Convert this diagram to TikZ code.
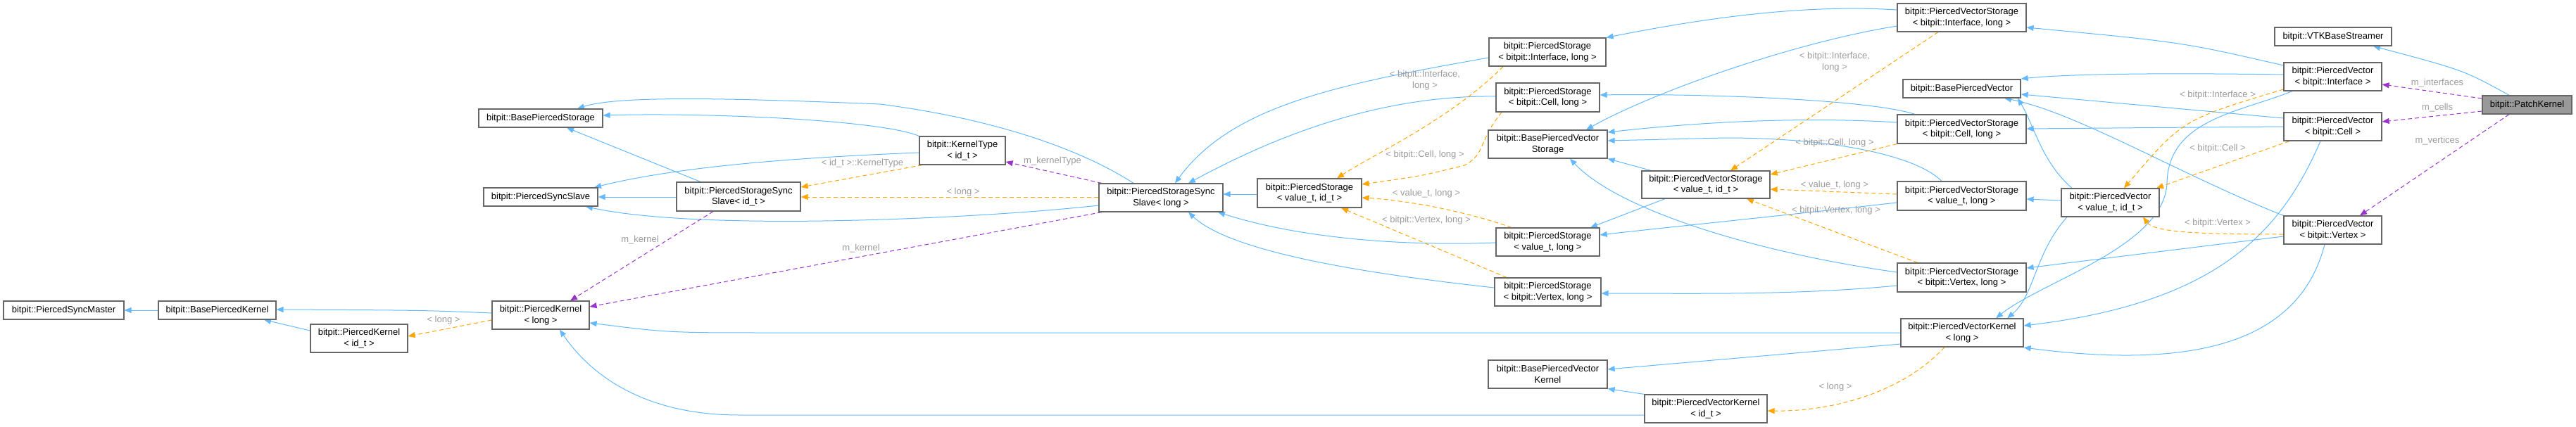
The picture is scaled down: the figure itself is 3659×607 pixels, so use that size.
\documentclass[tikz,border=0pt]{standalone}
\usepackage{fontspec}
\setmainfont{Liberation Sans}
\usetikzlibrary{arrows.meta}
\definecolor{cblue}{HTML}{63B8FF}
\definecolor{corange}{HTML}{FFA500}
\definecolor{cpurple}{HTML}{9A32CD}
\definecolor{cgray}{HTML}{9B9B9B}
\definecolor{cbord}{HTML}{666666}
\pgfdeclarelayer{bg}
\pgfsetlayers{bg,main}
\newcommand\bx[7][white]{\node[box,fill=#1,minimum width={(#5-#3)*1pt},minimum height={(#6-#4)*1pt}] (#2) at ({(#3+#5)/2},{(#4+#6)/2}) {#7};}
\begin{document}
\begin{tikzpicture}[x=1pt,y=-1pt,
  every node/.style={font=\fontsize{13}{15.5}\selectfont},
  box/.style={draw=cbord,line width=1.2pt,inner sep=0pt,align=center},
  tip/.style={-{Triangle[length=10pt,width=8pt]}},
  inh/.style={tip,draw=cblue,line width=1pt},
  tmpl/.style={tip,draw=corange,line width=1pt,dash pattern=on 6pt off 4pt},
  mem/.style={tip,draw=cpurple,line width=1pt,dash pattern=on 6pt off 4pt},
  lbl/.style={text=cgray,align=center,inner sep=0pt}]
\useasboundingbox (0,0) rectangle (3659,607);
\bx{PSM}{5}{428}{176}{454}{bitpit::PiercedSyncMaster}
\bx{BPK}{225}{428}{392}{454}{bitpit::BasePiercedKernel}
\bx{PKi}{441}{461}{579}{501}{bitpit::PiercedKernel\\< id\_t >}
\bx{PKl}{699}{428}{837}{468}{bitpit::PiercedKernel\\< long >}
\bx{BPS}{680}{155}{856}{181}{bitpit::BasePiercedStorage}
\bx{PSS}{687}{267}{849}{293}{bitpit::PiercedSyncSlave}
\bx{PSSSi}{961}{259}{1137}{300}{bitpit::PiercedStorageSync\\Slave< id\_t >}
\bx{KT}{1306}{194}{1428}{234}{bitpit::KernelType\\< id\_t >}
\bx{PSSSl}{1561}{261}{1737}{301}{bitpit::PiercedStorageSync\\Slave< long >}
\bx{PSvi}{1786}{254}{1934}{295}{bitpit::PiercedStorage\\< value\_t, id\_t >}
\bx{PSI}{2115}{54}{2281}{94}{bitpit::PiercedStorage\\< bitpit::Interface, long >}
\bx{PSC}{2125}{118}{2272}{159}{bitpit::PiercedStorage\\< bitpit::Cell, long >}
\bx{BPVS}{2114}{185}{2283}{225}{bitpit::BasePiercedVector\\Storage}
\bx{PSvl}{2125}{324}{2272}{364}{bitpit::PiercedStorage\\< value\_t, long >}
\bx{PSV}{2123}{395}{2274}{435}{bitpit::PiercedStorage\\< bitpit::Vertex, long >}
\bx{BPVK}{2114}{512}{2283}{552}{bitpit::BasePiercedVector\\Kernel}
\bx{PVKi}{2336}{561}{2510}{601}{bitpit::PiercedVectorKernel\\< id\_t >}
\bx{PVSI}{2695}{5}{2878}{45}{bitpit::PiercedVectorStorage\\< bitpit::Interface, long >}
\bx{PVSvi}{2332}{243}{2514}{282}{bitpit::PiercedVectorStorage\\< value\_t, id\_t >}
\bx{BPV}{2703}{113}{2870}{139}{bitpit::BasePiercedVector}
\bx{PVSC}{2695}{163}{2878}{204}{bitpit::PiercedVectorStorage\\< bitpit::Cell, long >}
\bx{PVSvl}{2695}{258}{2878}{299}{bitpit::PiercedVectorStorage\\< value\_t, long >}
\bx{PVSV}{2695}{374}{2878}{415}{bitpit::PiercedVectorStorage\\< bitpit::Vertex, long >}
\bx{PVKl}{2700}{453}{2874}{493}{bitpit::PiercedVectorKernel\\< long >}
\bx{PVvi}{2928}{268}{3067}{308}{bitpit::PiercedVector\\< value\_t, id\_t >}
\bx{VTK}{3231}{39}{3397}{65}{bitpit::VTKBaseStreamer}
\bx{PVI}{3244}{89}{3383}{129}{bitpit::PiercedVector\\< bitpit::Interface >}
\bx{PVC}{3244}{160}{3383}{200}{bitpit::PiercedVector\\< bitpit::Cell >}
\bx{PVV}{3244}{307}{3383}{347}{bitpit::PiercedVector\\< bitpit::Vertex >}
\bx[black!40]{PK}{3526}{136}{3653}{162}{bitpit::PatchKernel}
\begin{pgfonlayer}{bg}
% inheritance
\draw[inh] (BPK.west|-0,441) -- (PSM.east|-0,441);
\draw[inh] (PKi.west|-0,470) -- (BPK.south-|375,0);
\draw[inh] (PKl.west|-0,445) .. controls (600,441) .. (BPK.east|-0,440);
\draw[inh] (PSSSi.north-|995,0) -- (BPS.south-|805,0);
\draw[inh] (PSSSi.west|-0,280) -- (PSS.east|-0,280);
\draw[inh] (KT.north west) .. controls (1250,170) and (1000,160) .. (BPS.east|-0,164);
\draw[inh] (KT.west|-0,217) .. controls (1100,225) and (950,240) .. (PSS.north-|844,0);
\draw[inh] (PSSSl.north-|1610,0) .. controls (1540,215) and (1420,170) .. (1250,148) .. controls (1050,140) and (880,135) .. (BPS.north-|820,0);
\draw[inh] (PSSSl.west|-0,292) .. controls (1400,310) and (1000,330) .. (PSS.south-|832,0);
\draw[inh] (PSvi.west|-0,276) -- (PSSSl.east|-0,276);
\draw[inh] (PSI.west|-0,82) .. controls (1900,120) and (1750,150) .. (PSSSl.north-|1669,0);
\draw[inh] (PSC.west|-0,137) .. controls (1950,135) and (1800,200) .. (PSSSl.north-|1688,0);
\draw[inh] (PSvl.west|-0,345) .. controls (2000,350) and (1850,340) .. (PSSSl.south-|1730,0);
\draw[inh] (PSV.west|-0,409) .. controls (1950,390) and (1750,360) .. (PSSSl.south-|1688,0);
\draw[inh] (PVSI.west|-0,37) .. controls (2550,60) and (2350,130) .. (BPVS.north-|2253,0);
\draw[inh] (PVSC.west|-0,174) .. controls (2550,165) and (2400,175) .. (BPVS.east|-0,188);
\draw[inh] (PVSvl.north-|2758,0) .. controls (2720,220) and (2600,196) .. (2450,196) -- (BPVS.east|-0,200);
\draw[inh] (PVSvi.north-|2345,0) -- (BPVS.south east);
\draw[inh] (PVSV.west|-0,387) .. controls (2500,360) and (2300,300) .. (BPVS.south-|2230,0);
\draw[inh] (PVSI.west|-0,14) .. controls (2550,5) and (2400,30) .. (PSI.north east);
\draw[inh] (PVSC.north-|2720,0) .. controls (2650,140) and (2400,133) .. (PSC.east|-0,135);
\draw[inh] (PVSvl.west|-0,288) .. controls (2500,310) and (2350,325) .. (PSvl.east|-0,334);
\draw[inh] (PVSV.west|-0,406) .. controls (2550,420) and (2400,417) .. (PSV.east|-0,417);
\draw[inh] (PVSvi.south-|2365,0) -- (PSvl.north-|2259,0);
\draw[inh] (PVvi.west|-0,285) -- (PVSvl.east|-0,283);
\draw[inh] (PVvi.north-|2943,0) .. controls (2900,230) and (2890,180) .. (BPV.south-|2866,0);
\draw[inh] (PVvi.south-|2936,0) .. controls (2890,360) and (2890,420) .. (PVKl.north-|2851,0);
\draw[inh] (PVI.west|-0,93) .. controls (3100,60) .. (PVSI.east|-0,39);
\draw[inh] (PVI.west|-0,106) .. controls (3100,104) and (2950,104) .. (BPV.east|-0,112);
\draw[inh] (PVI.south-|3256,0) .. controls (3180,160) and (3080,170) .. (3078,260) .. controls (3075,350) and (2900,400) .. (PVKl.north-|2835,0);
\draw[inh] (PVC.west|-0,168) -- (BPV.east|-0,134);
\draw[inh] (PVC.west|-0,180) -- (PVSC.east|-0,183);
\draw[inh] (PVC.south-|3296,0) .. controls (3240,330) and (3150,430) .. (PVKl.east|-0,463);
\draw[inh] (PVV.north west) .. controls (3100,250) and (2950,160) .. (BPV.south-|2847,0);
\draw[inh] (PVV.west|-0,336) -- (PVSV.east|-0,381);
\draw[inh] (PVV.south-|3302,0) .. controls (3270,470) and (3150,530) .. (PVKl.east|-0,494);
\draw[inh] (PK.north-|3564,0) .. controls (3500,100) .. (VTK.south-|3371,0);
\draw[inh] (PVKl.west|-0,473) -- (1100,473) .. controls (950,473) .. (PKl.east|-0,459);
\draw[inh] (PVKl.west|-0,489) -- (BPVK.east|-0,525);
\draw[inh] (PVKi.north west) -- (BPVK.south east);
\draw[inh] (PVKi.west|-0,590) -- (1050,590) .. controls (900,590) and (830,520) .. (PKl.south-|795,0);
% templates
\draw[tmpl] (PKl.west|-0,455) -- (PKi.east|-0,478);
\draw[tmpl] (KT.south-|1310,0) -- (PSSSi.east|-0,266);
\draw[tmpl] (PSSSl.west|-0,280) -- (PSSSi.east|-0,280);
\draw[tmpl] (PSI.south-|2135,0) .. controls (2060,170) and (1950,220) .. (PSvi.north-|1899,0);
\draw[tmpl] (PSC.south-|2133,0) .. controls (2100,200) and (2110,220) .. (2080,235) .. controls (2020,250) .. (PSvi.east|-0,262);
\draw[tmpl] (PSvl.north-|2147,0) .. controls (2080,300) and (2000,285) .. (PSvi.east|-0,281);
\draw[tmpl] (PSV.north-|2140,0) -- (PSvi.south-|1905,0);
\draw[tmpl] (PVSI.south-|2753,0) -- (PVSvi.north-|2458,0);
\draw[tmpl] (PVSC.south west) -- (PVSvi.east|-0,248);
\draw[tmpl] (PVSvl.west|-0,276) -- (PVSvi.east|-0,269);
\draw[tmpl] (PVSV.north-|2724,0) -- (PVSvi.south-|2481,0);
\draw[tmpl] (PVI.west|-0,127) .. controls (3100,170) .. (PVvi.north-|3017,0);
\draw[tmpl] (PVC.south-|3252,0) -- (PVvi.north-|3063,0);
\draw[tmpl] (PVV.west|-0,333) .. controls (3120,333) and (3060,330) .. (PVvi.south-|3044,0);
\draw[tmpl] (PVKl.south-|2762,0) .. controls (2700,560) and (2600,585) .. (PVKi.east|-0,584);
% members
\draw[mem] (PSSSi.south-|1013,0) -- (PKl.north-|810,0);
\draw[mem] (PSSSl.north-|1565,0) -- (KT.east|-0,230);
\draw[mem] (PSSSl.south-|1565,0) -- (PKl.east|-0,436);
\draw[mem] (PK.west|-0,140) -- (PVI.east|-0,120);
\draw[mem] (PK.west|-0,158) -- (PVC.east|-0,173);
\draw[mem] (PK.south-|3564,0) -- (PVV.north-|3352,0);
\end{pgfonlayer}
% labels
\node[lbl] (l1) at (630,455) {< long >};
\node[lbl] (l2) at (1225,232) {< id\_t >::KernelType};
\node[lbl] (l3) at (1368,273) {< long >};
\node[lbl] (l4) at (909,341) {m\_kernel};
\node[lbl] (l5) at (1495,229) {m\_kernelType};
\node[lbl] (l6) at (1223,353) {m\_kernel};
\node[lbl] (l7) at (2024,114) {< bitpit::Interface,\\long >};
\node[lbl] (l8) at (2024,220) {< bitpit::Cell, long >};
\node[lbl] (l9) at (2026,275) {< value\_t, long >};
\node[lbl] (l10) at (2026,313) {< bitpit::Vertex, long >};
\node[lbl] (l11) at (2606,88) {< bitpit::Interface,\\long >};
\node[lbl] (l12) at (2606,203) {< bitpit::Cell, long >};
\node[lbl] (l13) at (2606,263) {< value\_t, long >};
\node[lbl] (l14) at (2608,299) {< bitpit::Vertex, long >};
\node[lbl] (l15) at (3150,135) {< bitpit::Interface >};
\node[lbl] (l16) at (3150,211) {< bitpit::Cell >};
\node[lbl] (l17) at (3150,317) {< bitpit::Vertex >};
\node[lbl] (l18) at (2607,550) {< long >};
\node[lbl] (l19) at (3462,118) {m\_interfaces};
\node[lbl] (l20) at (3462,153) {m\_cells};
\node[lbl] (l21) at (3462,200) {m\_vertices};
\end{tikzpicture}
\end{document}
